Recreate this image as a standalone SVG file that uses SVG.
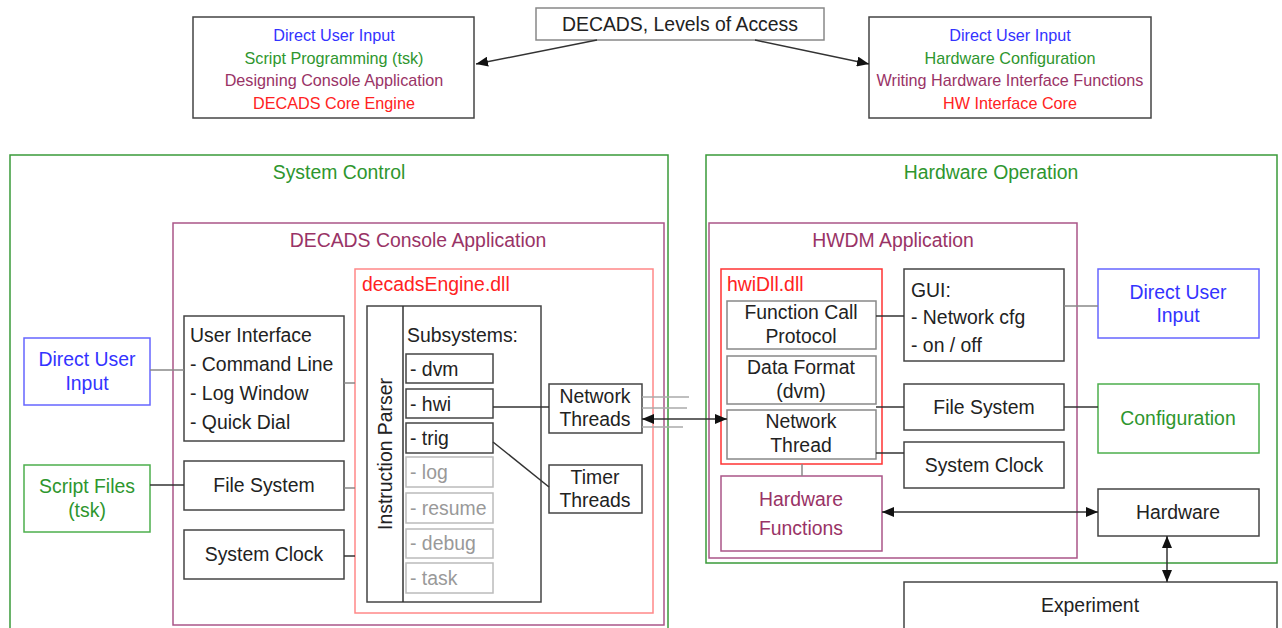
<svg xmlns="http://www.w3.org/2000/svg" width="1282" height="628" viewBox="0 0 1282 628">
<defs>
<style>
text{font-family:"Liberation Sans",Arial,sans-serif;font-size:19.4px;fill:#222}
.s{font-size:16.2px}
.c{text-anchor:middle}
.blue{fill:#3333ff}.green{fill:#2e962e}.purple{fill:#993366}.red{fill:#ff2222}.gray{fill:#999}
.box{fill:#fff;stroke:#444;stroke-width:1.5}
.gbox{fill:#fff;stroke:#888;stroke-width:1.5}
.lbox{fill:#fff;stroke:#bbb;stroke-width:1.5}
.bbox{fill:#fff;stroke:#6666ff;stroke-width:1.5}
.grbox{fill:#fff;stroke:#4caf4c;stroke-width:1.5}
.grcont{fill:none;stroke:#3a9a3a;stroke-width:1.5}
.pbox{fill:none;stroke:#aa5588;stroke-width:1.5}
.rbox{fill:none;stroke:#ff8888;stroke-width:1.5}
.rbox2{fill:none;stroke:#ff3333;stroke-width:1.5}
.ln{stroke:#333;stroke-width:1.5;fill:none}
.lg{stroke:#888;stroke-width:1.5;fill:none}
.lgl{stroke:#aaa;stroke-width:1.5;fill:none}
</style>
<marker id="ah" viewBox="0 0 12 10" refX="12" refY="5" markerWidth="12" markerHeight="10" orient="auto-start-reverse" markerUnits="userSpaceOnUse">
<path d="M0,0 L12,5 L0,10 z" fill="#111"/>
</marker>
</defs>

<g id="containers">
<rect class="grcont" x="10" y="155" width="658" height="480"/>
<text class="green c" x="339" y="179">System Control</text>
<rect class="grcont" x="706" y="155" width="571" height="408"/>
<text class="green c" x="991" y="179">Hardware Operation</text>
<rect class="pbox" x="173" y="223" width="491" height="402"/>
<text class="purple c" x="418" y="247">DECADS Console Application</text>
<rect class="rbox" x="355" y="269" width="298" height="344"/>
<text class="red" x="362" y="291">decadsEngine.dll</text>
<rect class="pbox" x="709" y="223" width="368" height="335"/>
<text class="purple c" x="893" y="247">HWDM Application</text>
<rect class="rbox2" x="721" y="269" width="161" height="195"/>
<text class="red" x="727" y="291">hwiDll.dll</text>
</g>

<g id="levels-title">
<rect class="gbox" x="536" y="8" width="288" height="32"/>
<text class="c" x="680" y="31">DECADS, Levels of Access</text>
</g>
<g id="levels-left">
<rect class="box" x="193" y="17" width="281" height="101"/>
<text class="s c blue" x="334" y="41">Direct User Input</text>
<text class="s c green" x="334" y="64">Script Programming (tsk)</text>
<text class="s c purple" x="334" y="86">Designing Console Application</text>
<text class="s c red" x="334" y="109">DECADS Core Engine</text>
</g>
<g id="levels-right">
<rect class="box" x="869" y="17" width="282" height="101"/>
<text class="s c blue" x="1010" y="41">Direct User Input</text>
<text class="s c green" x="1010" y="64">Hardware Configuration</text>
<text class="s c purple" x="1010" y="86">Writing Hardware Interface Functions</text>
<text class="s c red" x="1010" y="109">HW Interface Core</text>
</g>

<g id="direct-user-input-left">
<rect class="bbox" x="24" y="338" width="126" height="67"/>
<text class="c blue" x="87" y="366">Direct User</text>
<text class="c blue" x="87" y="390">Input</text>
</g>
<g id="script-files">
<rect class="grbox" x="24" y="465" width="126" height="67"/>
<text class="c green" x="87" y="493">Script Files</text>
<text class="c green" x="87" y="517">(tsk)</text>
</g>
<g id="user-interface">
<rect class="box" x="184" y="316" width="160" height="125"/>
<text x="190" y="342">User Interface</text>
<text x="190" y="371">- Command Line</text>
<text x="190" y="400">- Log Window</text>
<text x="190" y="429">- Quick Dial</text>
</g>
<g id="file-system-left">
<rect class="box" x="184" y="461" width="160" height="49"/>
<text class="c" x="264" y="492">File System</text>
</g>
<g id="system-clock-left">
<rect class="box" x="184" y="530" width="160" height="49"/>
<text class="c" x="264" y="561">System Clock</text>
</g>

<g id="instruction-parser">
<rect class="box" x="367" y="306" width="174" height="296"/>
<line class="ln" x1="403" y1="306" x2="403" y2="602"/>
<text class="c" transform="translate(392,454) rotate(-90)">Instruction Parser</text>
<text x="407" y="342">Subsystems:</text>
</g>
<g id="sub-dvm"><rect class="box" x="406" y="354" width="87" height="29"/><text x="410" y="376">- dvm</text></g>
<g id="sub-hwi"><rect class="box" x="406" y="389" width="87" height="29"/><text x="410" y="411">- hwi</text></g>
<g id="sub-trig"><rect class="box" x="406" y="423" width="87" height="30"/><text x="410" y="445">- trig</text></g>
<g id="sub-log"><rect class="lbox" x="406" y="457" width="87" height="30"/><text class="gray" x="410" y="479">- log</text></g>
<g id="sub-resume"><rect class="lbox" x="406" y="493" width="87" height="30"/><text class="gray" x="410" y="515">- resume</text></g>
<g id="sub-debug"><rect class="lbox" x="406" y="529" width="87" height="29"/><text class="gray" x="410" y="550">- debug</text></g>
<g id="sub-task"><rect class="lbox" x="406" y="563" width="87" height="30"/><text class="gray" x="410" y="585">- task</text></g>

<g id="network-threads">
<rect class="box" x="549" y="384" width="93" height="49"/>
<text class="c" x="595" y="403">Network</text>
<text class="c" x="595" y="426">Threads</text>
</g>
<g id="timer-threads">
<rect class="box" x="549" y="465" width="93" height="48"/>
<text class="c" x="595" y="484">Timer</text>
<text class="c" x="595" y="507">Threads</text>
</g>

<g id="function-call-protocol">
<rect class="gbox" x="727" y="301" width="149" height="48"/>
<text class="c" x="801" y="319">Function Call</text>
<text class="c" x="801" y="343">Protocol</text>
</g>
<g id="data-format">
<rect class="gbox" x="727" y="356" width="149" height="48"/>
<text class="c" x="801" y="374">Data Format</text>
<text class="c" x="801" y="398">(dvm)</text>
</g>
<g id="network-thread">
<rect class="gbox" x="727" y="410" width="149" height="49"/>
<text class="c" x="801" y="428">Network</text>
<text class="c" x="801" y="452">Thread</text>
</g>
<g id="hardware-functions">
<rect class="pbox" x="721" y="476" width="161" height="75" style="fill:#fff"/>
<text class="c purple" x="801" y="506">Hardware</text>
<text class="c purple" x="801" y="535">Functions</text>
</g>
<g id="gui">
<rect class="box" x="904" y="269" width="160" height="92"/>
<text x="911" y="297">GUI:</text>
<text x="911" y="324">- Network cfg</text>
<text x="911" y="352">- on / off</text>
</g>
<g id="file-system-right">
<rect class="box" x="904" y="384" width="160" height="46"/>
<text class="c" x="984" y="414">File System</text>
</g>
<g id="system-clock-right">
<rect class="box" x="904" y="442" width="160" height="46"/>
<text class="c" x="984" y="472">System Clock</text>
</g>
<g id="direct-user-input-right">
<rect class="bbox" x="1098" y="269" width="161" height="69"/>
<text class="c blue" x="1178" y="299">Direct User</text>
<text class="c blue" x="1178" y="322">Input</text>
</g>
<g id="configuration">
<rect class="grbox" x="1098" y="384" width="161" height="69"/>
<text class="c green" x="1178" y="425">Configuration</text>
</g>
<g id="hardware">
<rect class="box" x="1098" y="489" width="161" height="47"/>
<text class="c" x="1178" y="519">Hardware</text>
</g>
<g id="experiment">
<rect class="box" x="904" y="582" width="373" height="60"/>
<text class="c" x="1090" y="612">Experiment</text>
</g>

<g id="connectors">
<line class="ln" x1="597" y1="40" x2="476" y2="64" marker-end="url(#ah)"/>
<line class="ln" x1="755" y1="40" x2="869" y2="64" marker-end="url(#ah)"/>
<line class="lg" x1="150" y1="370" x2="184" y2="370"/>
<line class="ln" x1="150" y1="485" x2="184" y2="485"/>
<line class="lg" x1="344" y1="383" x2="355" y2="383"/>
<line class="lg" x1="344" y1="488" x2="355" y2="488"/>
<line class="ln" x1="344" y1="556" x2="355" y2="556"/>
<line class="ln" x1="493" y1="407" x2="549" y2="407"/>
<line class="ln" x1="493" y1="442" x2="549" y2="487"/>
<line class="lgl" x1="642" y1="397" x2="689" y2="397"/>
<line class="lgl" x1="642" y1="408" x2="687" y2="408"/>
<line class="lgl" x1="642" y1="427" x2="683" y2="427"/>
<line class="ln" x1="642" y1="419" x2="727" y2="419" marker-start="url(#ah)" marker-end="url(#ah)"/>
<line class="ln" x1="876" y1="316" x2="904" y2="316"/>
<line class="ln" x1="876" y1="407" x2="904" y2="407"/>
<line class="ln" x1="876" y1="453" x2="904" y2="453"/>
<line class="lg" x1="802" y1="464" x2="802" y2="476"/>
<line class="ln" x1="882" y1="512" x2="1098" y2="512" marker-start="url(#ah)" marker-end="url(#ah)"/>
<line class="lg" x1="1064" y1="306" x2="1098" y2="306"/>
<line class="ln" x1="1064" y1="407" x2="1098" y2="407"/>
<line class="ln" x1="1167" y1="536" x2="1167" y2="582" marker-start="url(#ah)" marker-end="url(#ah)"/>
</g>
</svg>
